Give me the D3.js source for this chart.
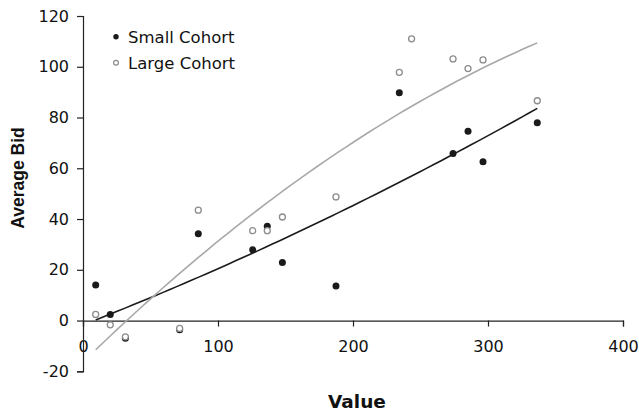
<!DOCTYPE html>
<html>
<head>
<meta charset="utf-8">
<script src="https://cdn.jsdelivr.net/npm/d3@7"></script>
<style>
  html, body { margin: 0; padding: 0; background: #fff; }
  svg { display: block; }
  .tick text { font-family: "DejaVu Sans", Verdana, sans-serif; font-size: 16px; fill: #111; }
</style>
</head>
<body>
<svg id="chart" width="639" height="414"></svg>
<script>
'use strict';

// data
const smallX = [9.4, 20.2, 31.4, 71.6, 85.4, 125.7, 136.5, 147.7, 187.4, 234.3, 274.1, 285.2, 296.3, 336.5];
const smallY = [14.0, 2.4, -7.0, -3.6, 34.2, 27.9, 37.2, 22.9, 13.6, 89.8, 65.8, 74.6, 62.6, 77.9];

const largeX = [9.4, 20.2, 31.4, 71.6, 85.4, 125.7, 136.5, 147.7, 187.4, 234.3, 243.4, 274.1, 285.2, 296.3, 336.5];
const largeY = [2.4, -1.7, -6.4, -3.1, 43.5, 35.4, 35.4, 40.8, 48.7, 97.8, 111.0, 103.1, 99.3, 102.7, 86.6];

const xTicks = [0, 100, 200, 300, 400];
const yTicks = [-20, 0, 20, 40, 60, 80, 100, 120];
const seriesNames = ['Small Cohort', 'Large Cohort'];

const svg = d3.select('#chart');

const x = d3.scaleLinear().domain([0, 400]).range([83, 623]);
const y = d3.scaleLinear().domain([-20, 120]).range([371.3, 16]);

// plain hyphen for negatives, like the original
const fmt = d => String(d);

// quadratic least-squares trendline (like Excel's polynomial order 2)
function quadFit(xs, ys) {
  const n = xs.length;
  let s = [0, 0, 0, 0, 0], t = [0, 0, 0];
  for (let i = 0; i < n; i++) {
    let p = 1;
    for (let k = 0; k < 5; k++) { s[k] += p; if (k < 3) t[k] += p * ys[i]; p *= xs[i]; }
  }
  const A = [[s[0], s[1], s[2], t[0]], [s[1], s[2], s[3], t[1]], [s[2], s[3], s[4], t[2]]];
  for (let c = 0; c < 3; c++) {
    for (let r = c + 1; r < 3; r++) {
      const f = A[r][c] / A[c][c];
      for (let k = c; k < 4; k++) A[r][k] -= f * A[c][k];
    }
  }
  const b = [0, 0, 0];
  for (let r = 2; r >= 0; r--) {
    let v = A[r][3];
    for (let k = r + 1; k < 3; k++) v -= A[r][k] * b[k];
    b[r] = v / A[r][r];
  }
  return v => b[0] + b[1] * v + b[2] * v * v;
}

// axes
const xAxis = svg.append('g')
  .attr('transform', `translate(0,${y(0)})`)
  .call(d3.axisBottom(x).tickValues(xTicks).tickSize(6).tickPadding(14).tickFormat(fmt));
const yAxis = svg.append('g')
  .attr('transform', `translate(${x(0)},0)`)
  .call(d3.axisLeft(y).tickValues(yTicks).tickSize(6).tickPadding(6).tickFormat(fmt));

[xAxis, yAxis].forEach(a => {
  a.select('.domain').attr('stroke', '#222').attr('stroke-width', 1.2);
  a.selectAll('.tick line').attr('stroke', '#222').attr('stroke-width', 1.2);
});
yAxis.selectAll('.tick text').attr('dx', -2);

// trendlines
const line = d3.line().x(d => x(d[0])).y(d => y(d[1]));
function trend(xs, ys, color) {
  const f = quadFit(xs, ys);
  const lo = d3.min(xs), hi = d3.max(xs);
  const pts = d3.range(0, 61).map(i => { const v = lo + (hi - lo) * i / 60; return [v, f(v)]; });
  svg.append('path').datum(pts).attr('d', line)
    .attr('fill', 'none').attr('stroke', color).attr('stroke-width', 1.6);
}
trend(smallX, smallY, '#1a1a1a');
trend(largeX, largeY, '#a8a8a8');

// markers
svg.append('g').selectAll('circle')
  .data(smallX.map((v, i) => [v, smallY[i]]))
  .join('circle')
  .attr('cx', d => x(d[0])).attr('cy', d => y(d[1])).attr('r', 3.5)
  .attr('fill', '#1a1a1a');

svg.append('g').selectAll('circle')
  .data(largeX.map((v, i) => [v, largeY[i]]))
  .join('circle')
  .attr('cx', d => x(d[0])).attr('cy', d => y(d[1])).attr('r', 3)
  .attr('fill', '#fff').attr('stroke', '#8c8c8c').attr('stroke-width', 1.3);

// legend
const leg = svg.append('g');
seriesNames.forEach((name, i) => {
  const yy = 36.7 + i * 26;
  if (i === 0) {
    leg.append('circle').attr('cx', 116).attr('cy', yy).attr('r', 2.7).attr('fill', '#1a1a1a');
  } else {
    leg.append('circle').attr('cx', 116).attr('cy', yy).attr('r', 2.4)
      .attr('fill', '#fff').attr('stroke', '#8c8c8c').attr('stroke-width', 1.2);
  }
  leg.append('text').attr('x', 128).attr('y', yy + 6)
    .attr('font-family', '"DejaVu Sans", Verdana, sans-serif').attr('font-size', 16.5)
    .attr('fill', '#111').text(name);
});

// axis titles
svg.append('text').attr('x', 357).attr('y', 408).attr('text-anchor', 'middle')
  .attr('font-family', '"DejaVu Sans", Verdana, sans-serif').attr('font-weight', 'bold')
  .attr('font-size', 18.5).attr('fill', '#111').text('Value');
svg.append('text').attr('transform', 'translate(24,178) rotate(-90)').attr('text-anchor', 'middle')
  .attr('font-family', '"Liberation Sans", Arial, sans-serif').attr('font-weight', 'bold')
  .attr('font-size', 17.5).attr('fill', '#111').text('Average Bid');
</script>
</body>
</html>
